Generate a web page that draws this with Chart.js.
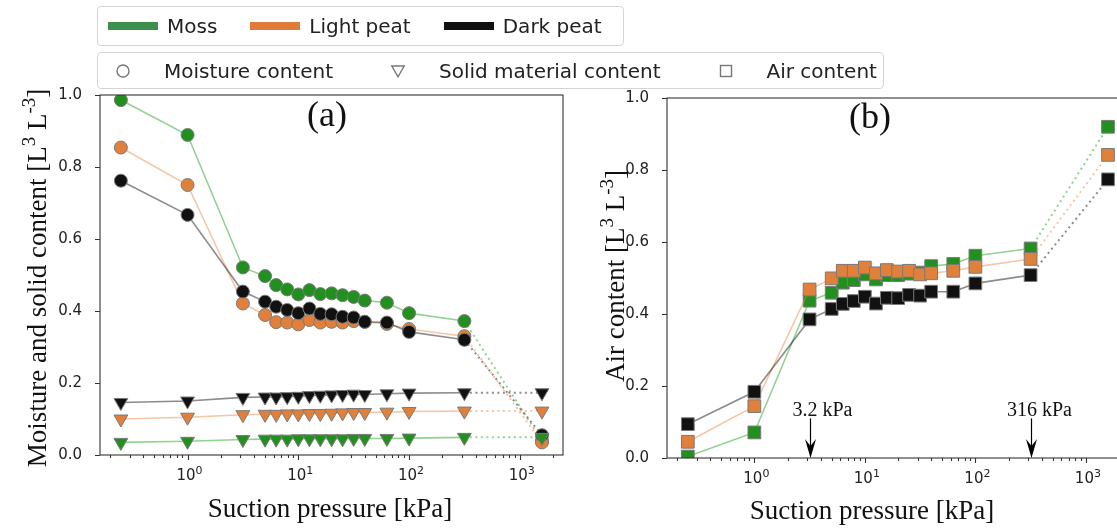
<!DOCTYPE html>
<html>
<head>
<meta charset="utf-8">
<script src="https://cdn.jsdelivr.net/npm/chart.js@4.4.0/dist/chart.umd.min.js"></script>
<style>
  html, body { margin: 0; padding: 0; background: #fff; overflow: hidden; }
  #page { position: relative; width: 1117px; height: 530px; overflow: hidden; background: #fff; }
  canvas { position: absolute; top: 0; }
  .legend { position: absolute; box-sizing: border-box; border: 1px solid #d4d4d4; border-radius: 4px;
            background: rgba(255,255,255,0.85); display: flex; align-items: center;
            font-family: "DejaVu Sans"; font-size: 20px; color: #222; white-space: nowrap; }
  .item { display: flex; align-items: center; }
  .patch { width: 50px; height: 8px; margin-right: 9px; }
  .mark { width: 40px; height: 20px; display: flex; justify-content: center; align-items: center; margin-right: 21px; }
</style>
</head>
<body>
<div id="page">
  <canvas id="chartA" width="580" height="530" style="left:0"></canvas>
  <canvas id="chartB" width="560" height="530" style="left:580px"></canvas>
  <div class="legend" id="legSoil" style="left:97px;top:6px;width:527px;height:40px;padding-left:10px"></div>
  <div class="legend" id="legKind" style="left:97px;top:52px;width:787px;height:37px;padding-left:5px"></div>
</div>
<script>
// suction pressure steps [kPa]
const suction = [0.25, 1, 3.16, 5.01, 6.31, 7.94, 10, 12.6, 15.8, 20, 25.1, 31.6, 39.8, 63.1, 100, 316, 1585];

// (a) moisture content
const mossMoisture  = [0.986, 0.889, 0.521, 0.497, 0.472, 0.460, 0.446, 0.458, 0.447, 0.449, 0.444, 0.439, 0.429, 0.423, 0.394, 0.372, 0.040];
const lightMoisture = [0.854, 0.750, 0.421, 0.389, 0.369, 0.368, 0.363, 0.375, 0.368, 0.370, 0.368, 0.372, 0.370, 0.364, 0.350, 0.330, 0.035];
const darkMoisture  = [0.762, 0.667, 0.454, 0.426, 0.412, 0.403, 0.394, 0.407, 0.392, 0.391, 0.384, 0.382, 0.370, 0.368, 0.342, 0.320, 0.055];

// (a) solid material content
const mossSolid  = [0.035, 0.038, 0.043, 0.044, 0.044, 0.044, 0.045, 0.045, 0.045, 0.045, 0.045, 0.046, 0.046, 0.046, 0.047, 0.049, 0.049];
const lightSolid = [0.100, 0.105, 0.112, 0.113, 0.113, 0.114, 0.114, 0.115, 0.115, 0.116, 0.117, 0.118, 0.118, 0.119, 0.121, 0.122, 0.122];
const darkSolid  = [0.146, 0.150, 0.160, 0.161, 0.161, 0.162, 0.163, 0.165, 0.166, 0.167, 0.168, 0.169, 0.168, 0.170, 0.172, 0.173, 0.173];

// (b) air content
const mossAir  = [0.004, 0.071, 0.437, 0.459, 0.487, 0.494, 0.510, 0.496, 0.508, 0.508, 0.512, 0.515, 0.533, 0.539, 0.562, 0.582, 0.920];
const lightAir = [0.045, 0.144, 0.468, 0.499, 0.520, 0.520, 0.529, 0.513, 0.522, 0.518, 0.520, 0.510, 0.513, 0.520, 0.531, 0.553, 0.842];
const darkAir  = [0.094, 0.184, 0.385, 0.414, 0.428, 0.436, 0.448, 0.429, 0.445, 0.444, 0.453, 0.451, 0.462, 0.462, 0.485, 0.508, 0.774];

const soils = ['Moss', 'Light peat', 'Dark peat'];
const kinds = ['Moisture content', 'Solid material content', 'Air content'];
const xMajor = [1, 10, 100, 1000];
const xMajorLabels = ['10^{0}', '10^{1}', '10^{2}', '10^{3}'];
const yTickValues = [0, 0.2, 0.4, 0.6, 0.8, 1.0];
const xMin = 0.162, xMax = 2455;

// colours
const markerCol = { moss: '#22901f', light: '#e0803a', dark: '#111111' };
const lineCol = { moss: 'rgba(40,165,40,0.5)', light: 'rgba(232,128,60,0.45)', dark: 'rgba(0,0,0,0.45)' };
const patchCol = ['#3f8f4c', '#e07b39', '#111111'];

// legends (html)
const legSoil = document.getElementById('legSoil');
soils.forEach((s, i) => {
  const d = document.createElement('div');
  d.className = 'item';
  d.style.marginRight = '33px';
  d.innerHTML = '<div class="patch" style="background:' + patchCol[i] + '"></div><span>' + s + '</span>';
  legSoil.appendChild(d);
});
const kindIcons = [
  '<svg width="16" height="16"><circle cx="8" cy="8" r="6" fill="none" stroke="#777" stroke-width="1.4"/></svg>',
  '<svg width="16" height="16"><polygon points="1.8,3 14.2,3 8,13.8" fill="none" stroke="#777" stroke-width="1.4"/></svg>',
  '<svg width="16" height="16"><rect x="2.5" y="2.5" width="11" height="11" fill="none" stroke="#777" stroke-width="1.4"/></svg>'
];
const legKind = document.getElementById('legKind');
kinds.forEach((k, i) => {
  const d = document.createElement('div');
  d.className = 'item';
  d.style.marginRight = '45px';
  d.innerHTML = '<div class="mark">' + kindIcons[i] + '</div><span>' + k + '</span>';
  legKind.appendChild(d);
});

function series(values, fill, line, style, order) {
  const radius = style === 'circle' ? 6.5 : (style === 'triangle' ? 8 : 9);
  return {
    data: suction.map((s, i) => ({ x: s, y: values[i] })),
    borderColor: line,
    borderWidth: 1.6,
    pointStyle: style,
    pointRadius: radius,
    pointHoverRadius: radius,
    pointRotation: style === 'triangle' ? 180 : 0,
    pointBackgroundColor: fill,
    pointBorderColor: '#7a7a7a',
    pointBorderWidth: 1,
    order: order,
    segment: {
      borderDash: c => c.p1DataIndex === suction.length - 1 ? [2, 3.5] : undefined,
      borderWidth: c => c.p1DataIndex === suction.length - 1 ? 2 : undefined
    }
  };
}

// draws "text^{sup}" with raised smaller parts, centred on cx
function drawRich(ctx, str, cx, cy, size, family, raise) {
  const parts = [];
  str.split(/(\^\{[^}]*\})/).forEach(p => {
    if (!p) return;
    if (p[0] === '^') parts.push({ t: p.slice(2, -1), sup: true });
    else parts.push({ t: p, sup: false });
  });
  const fam = family || '"Liberation Serif"';
  const fn = size + 'px ' + fam;
  const fs = Math.round(size * 0.7) + 'px ' + fam;
  const up = size * (raise || 0.4);
  let w = 0;
  parts.forEach(p => { ctx.font = p.sup ? fs : fn; p.w = ctx.measureText(p.t).width; w += p.w; });
  let x = cx - w / 2;
  parts.forEach(p => {
    ctx.font = p.sup ? fs : fn;
    ctx.fillText(p.t, x, cy - (p.sup ? up : 0));
    x += p.w;
  });
}

const panelPlugin = {
  id: 'panel',
  afterDraw(chart, args, opts) {
    const { ctx, chartArea: a } = chart;
    const xs = chart.scales.x, ys = chart.scales.y;
    ctx.save();
    // frame
    ctx.strokeStyle = '#333';
    ctx.lineWidth = 1.1;
    ctx.strokeRect(a.left, a.top, a.right - a.left, a.bottom - a.top);
    // tick marks
    ctx.beginPath();
    xs.ticks.forEach(t => {
      const major = xMajor.some(m => Math.abs(m - t.value) < 1e-9 * m);
      const px = Math.round(xs.getPixelForValue(t.value)) + 0.5;
      ctx.moveTo(px, a.bottom);
      ctx.lineTo(px, a.bottom + (major ? 5 : 3));
    });
    ys.ticks.forEach(t => {
      const py = Math.round(ys.getPixelForValue(t.value)) + 0.5;
      ctx.moveTo(a.left, py);
      ctx.lineTo(a.left - 5, py);
    });
    ctx.stroke();
    ctx.textBaseline = 'alphabetic';
    ctx.textAlign = 'left';
    // x tick labels (10 with raised exponent)
    ctx.fillStyle = '#222';
    xMajor.forEach((m, i) => {
      drawRich(ctx, xMajorLabels[i], xs.getPixelForValue(m) + 2, a.bottom + 25, 15, '"DejaVu Sans"', 0.42);
    });
    // texts
    ctx.fillStyle = '#111';
    (opts.texts || []).forEach(t => {
      if (t.rot) {
        ctx.save();
        ctx.translate(t.x, t.y);
        ctx.rotate(-Math.PI / 2);
        drawRich(ctx, t.t, 0, 0, t.size);
        ctx.restore();
      } else {
        drawRich(ctx, t.t, t.x, t.y, t.size);
      }
    });
    // arrows
    (opts.arrows || []).forEach(ar => {
      const x = Math.round(xs.getPixelForValue(ar.x)) + 0.5;
      const tip = ys.getPixelForValue(ar.yHead);
      const tail = ys.getPixelForValue(ar.yTail);
      ctx.strokeStyle = '#000';
      ctx.lineWidth = 1.2;
      ctx.beginPath();
      ctx.moveTo(x, tail);
      ctx.lineTo(x, tip - 10);
      ctx.stroke();
      ctx.fillStyle = '#000';
      ctx.beginPath();
      ctx.moveTo(x, tip);
      ctx.lineTo(x - 5.5, tip - 19);
      ctx.lineTo(x, tip - 12);
      ctx.lineTo(x + 5.5, tip - 19);
      ctx.closePath();
      ctx.fill();
      ctx.fillStyle = '#111';
      drawRich(ctx, ar.text, x + ar.dx, ys.getPixelForValue(ar.yText), 20);
    });
    ctx.restore();
  }
};

function options(cfg) {
  return {
    responsive: false,
    animation: false,
    events: [],
    layout: { padding: { left: 0, top: cfg.top, right: cfg.right, bottom: 0 } },
    plugins: {
      legend: { display: false },
      tooltip: { enabled: false },
      panel: { texts: cfg.texts, arrows: cfg.arrows }
    },
    scales: {
      x: {
        type: 'logarithmic',
        min: xMin,
        max: xMax,
        grid: { display: false },
        border: { display: false },
        afterBuildTicks: s => {
          const t = [];
          for (let e = -1; e <= 3; e++) {
            for (let k = 1; k <= 9; k++) {
              const v = k * Math.pow(10, e);
              if (v >= xMin && v <= xMax) t.push({ value: v });
            }
          }
          s.ticks = t;
        },
        afterFit: s => { s.height = cfg.xHeight; },
        ticks: { autoSkip: false, maxRotation: 0, callback: () => '' }
      },
      y: {
        type: 'linear',
        min: 0,
        max: 1,
        grid: { display: false },
        border: { display: false },
        afterBuildTicks: s => { s.ticks = yTickValues.map(v => ({ value: v })); },
        afterFit: s => { s.width = cfg.yWidth; },
        ticks: {
          padding: 10,
          color: '#222',
          font: { family: 'DejaVu Sans', size: 15 },
          callback: v => v.toFixed(1)
        }
      }
    }
  };
}

new Chart(document.getElementById('chartA'), {
  type: 'line',
  data: {
    datasets: [
      series(darkSolid, markerCol.dark, lineCol.dark, 'triangle', 1),
      series(lightSolid, markerCol.light, lineCol.light, 'triangle', 2),
      series(mossSolid, markerCol.moss, lineCol.moss, 'triangle', 3),
      series(darkMoisture, markerCol.dark, lineCol.dark, 'circle', 4),
      series(lightMoisture, markerCol.light, lineCol.light, 'circle', 5),
      series(mossMoisture, markerCol.moss, lineCol.moss, 'circle', 6)
    ]
  },
  options: options({
    top: 95, right: 17, yWidth: 100, xHeight: 75,
    texts: [
      { t: '(a)', x: 327, y: 126, size: 36 },
      { t: 'Suction pressure [kPa]', x: 330, y: 517, size: 27 },
      { t: 'Moisture and solid content [L^{3} L^{-3}]', x: 46, y: 278, size: 27, rot: true }
    ],
    arrows: []
  }),
  plugins: [panelPlugin]
});

new Chart(document.getElementById('chartB'), {
  type: 'line',
  data: {
    datasets: [
      series(darkAir, markerCol.dark, lineCol.dark, 'rect', 1),
      series(lightAir, markerCol.light, lineCol.light, 'rect', 2),
      series(mossAir, markerCol.moss, lineCol.moss, 'rect', 3)
    ]
  },
  options: options({
    top: 98, right: 11, yWidth: 87, xHeight: 72,
    texts: [
      { t: '(b)', x: 290, y: 128, size: 36 },
      { t: 'Suction pressure [kPa]', x: 292, y: 519, size: 27 },
      { t: 'Air content [L^{3} L^{-3}]', x: 44, y: 276, size: 27, rot: true }
    ],
    arrows: [
      { x: 3.16, yHead: 0, yTail: 0.11, yText: 0.117, dx: 12, text: '3.2 kPa' },
      { x: 316, yHead: 0, yTail: 0.11, yText: 0.117, dx: 8, text: '316 kPa' }
    ]
  }),
  plugins: [panelPlugin]
});
</script>
</body>
</html>
